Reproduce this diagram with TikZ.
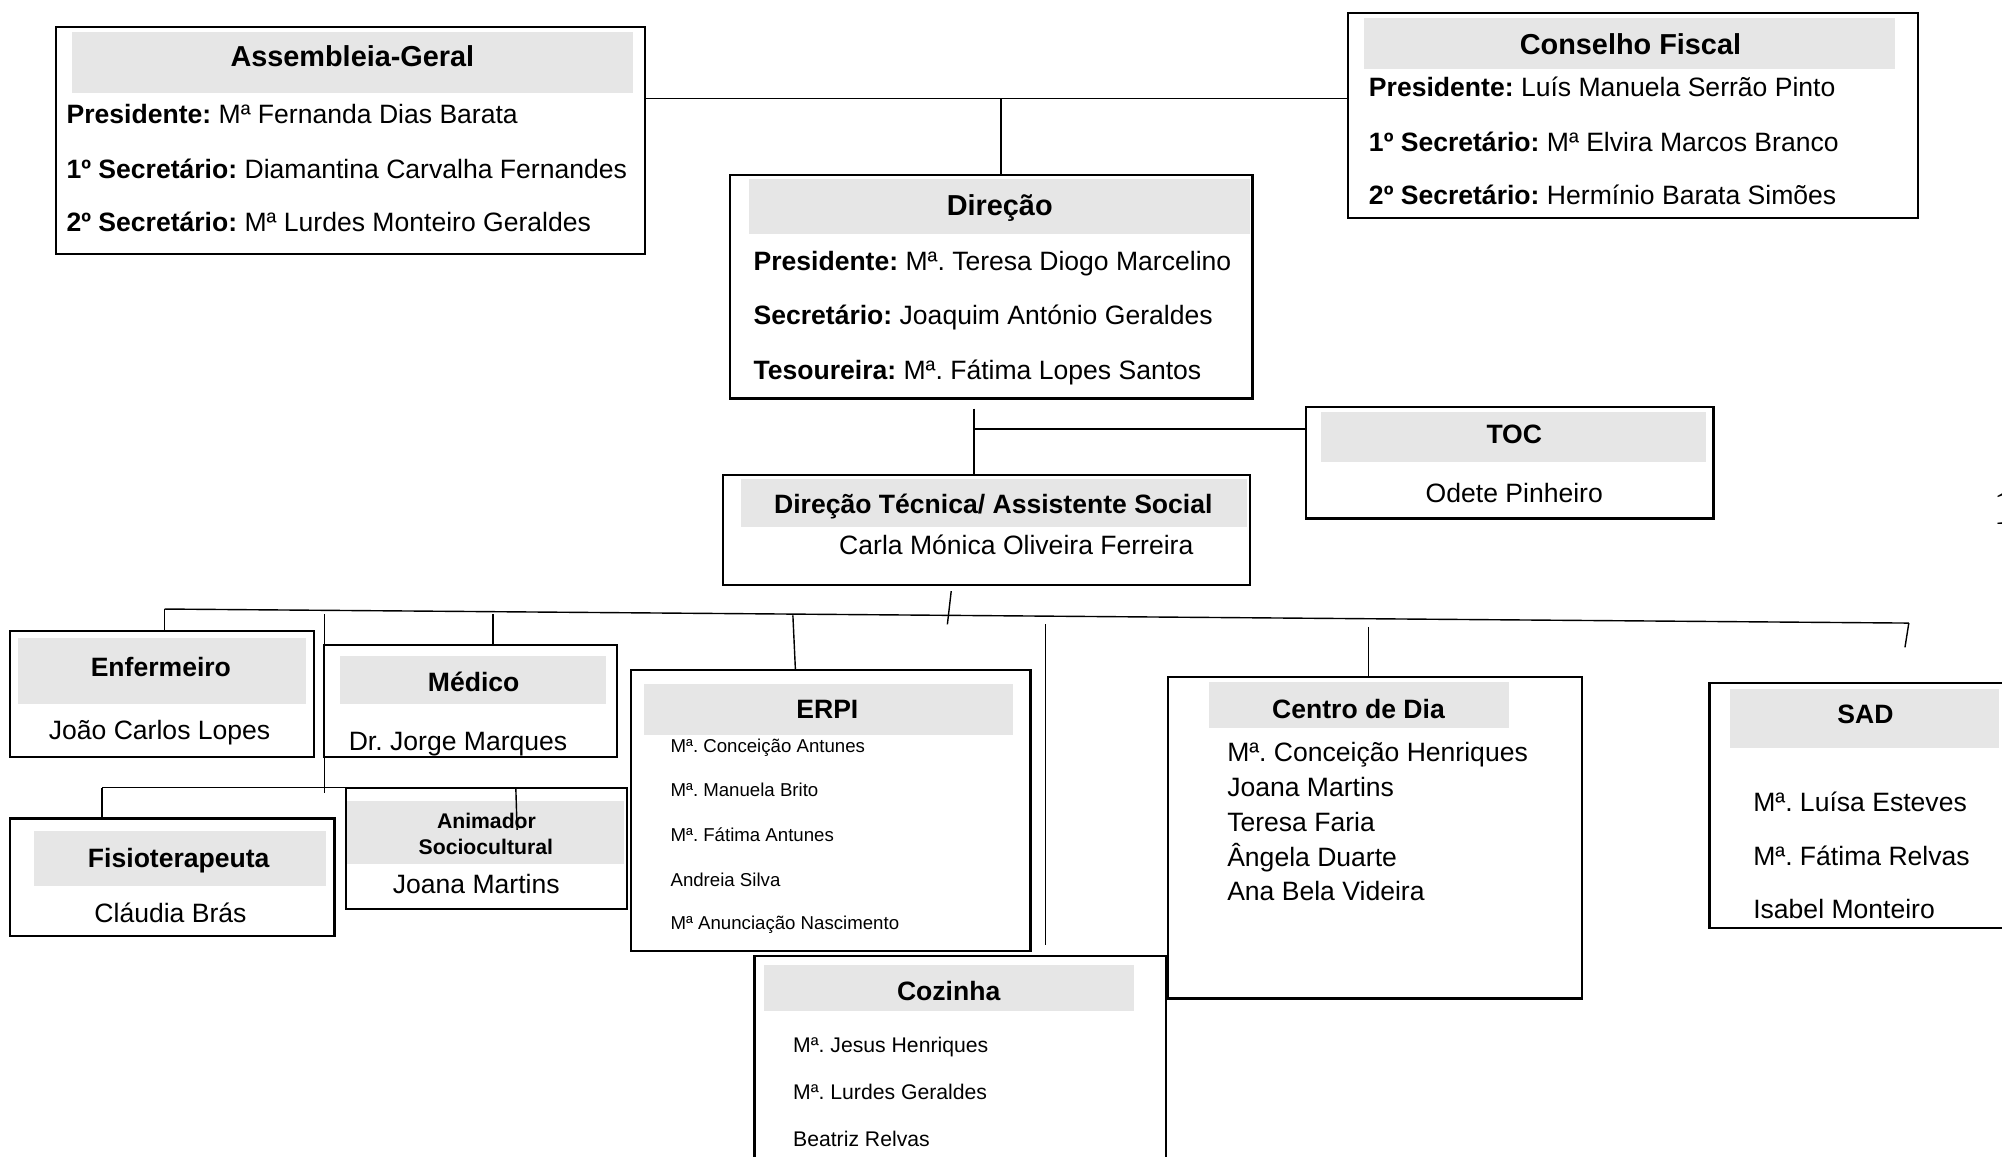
\documentclass[tikz,border=0pt]{standalone}
\usepackage{fontspec}
\setmainfont{Liberation Sans}
\newfontfamily\serifone{Liberation Serif}
\frenchspacing
\definecolor{hdrgray}{HTML}{E6E6E6}
\newcommand\fsTop{\fontsize{22.6}{26}\selectfont\bfseries}
\newcommand\fsTitle{\fontsize{20.8}{24}\selectfont\bfseries}
\newcommand\fsBody{\fontsize{20.8}{24}\selectfont}
\newcommand\fsSmall{\fontsize{14.6}{17}\selectfont}
\newcommand\fsMid{\fontsize{16.6}{19}\selectfont}
\newcommand\fsAni{\fontsize{16.6}{19}\selectfont\bfseries}
\begin{document}
\begin{tikzpicture}[x=1pt,y=-1pt,
  bx/.style={draw=black, line width=1.8pt, fill=white, inner sep=0pt, rectangle},
  hdr/.style={fill=hdrgray},
  ln/.style={line width=1.1pt, draw=black},
  txt/.style={inner sep=0pt, anchor=base west},
  ctxt/.style={inner sep=0pt, anchor=base}]
\useasboundingbox (0,0) rectangle (1568,906);
\fill[white] (0,0) rectangle (1568,906);

% ---------- boxes ----------
\node[bx, minimum width=461pt, minimum height=178pt] (ag) at (274.5,110) {};
\node[bx, minimum width=446pt, minimum height=161pt] (cf) at (1279,90.5) {};
\node[bx, minimum width=409pt, minimum height=175pt] (dir) at (776.5,224.5) {};
\node[bx, minimum width=319pt, minimum height=87pt] (toc) at (1182.5,362.5) {};
\node[bx, minimum width=413pt, minimum height=86pt] (dt) at (772.5,415) {};
\node[bx, minimum width=238pt, minimum height=99pt] (enf) at (127,543.5) {};
\node[bx, minimum width=229pt, minimum height=88pt] (med) at (368.5,549) {};
\node[bx, minimum width=254pt, minimum height=92pt] (fis) at (135,687) {};
\node[bx, minimum width=220pt, minimum height=95pt] (ani) at (381,664.5) {};
\node[bx, minimum width=313pt, minimum height=220pt] (erpi) at (650.5,635) {};
\node[bx, minimum width=322pt, minimum height=181pt] (coz) at (752,839.5) {};
\node[bx, minimum width=324pt, minimum height=252pt] (cd) at (1077,656) {};
\node[bx, minimum width=261pt, minimum height=192pt] (sad) at (1469.5,631) {};

% ---------- header bands ----------
\fill[hdr] (56,25) rectangle (496,73);
\fill[hdr] (1068,14) rectangle (1484,54);
\fill[hdr] (587,140) rectangle (979,183);
\fill[hdr] (1035,323) rectangle (1336,362);
\fill[hdr] (580,375) rectangle (977,413);
\fill[hdr] (14,500) rectangle (240,551);
\fill[hdr] (266,514) rectangle (475,551);
\fill[hdr] (27,651) rectangle (255,694);
\fill[hdr] (272,627) rectangle (489,677);
\fill[hdr] (504,536) rectangle (793,576);
\fill[hdr] (598,756) rectangle (888,792);
\fill[hdr] (947,534) rectangle (1182,570);
\fill[hdr] (1355,540) rectangle (1566,586);

% ---------- connectors ----------
\coordinate (j1) at (784,77);
\draw[ln] (ag.east|-j1) -- (cf.west|-j1);
\draw[ln] (j1) -- (j1|-dir.north);
\coordinate (j2) at (763,320);
\coordinate (j3) at (763,336);
\draw[ln] (j2) -- (j2|-dt.north);
\draw[ln] (j3) -- (toc.west|-j3);
\coordinate (d1) at (745,463);
\coordinate (d2) at (742,489);
\draw[ln] (d1) -- (d2);
\coordinate (busL) at (129,477);
\coordinate (busR) at (1495,488);
\draw[ln] (busL) -- (busR);
\coordinate (sadT) at (1492,507);
\draw[ln] (busR) -- (sadT);
\draw[ln] (busL) -- (busL|-enf.north);
\coordinate (v1a) at (254,481);
\coordinate (v1b) at (254,621);
\draw[ln] (v1a) -- (v1b);
\coordinate (m1) at (386,481);
\draw[ln] (m1) -- (m1|-med.north);
\coordinate (e1) at (621,482);
\draw[ln] (e1) -- (623,525);
\coordinate (v2a) at (819,489);
\coordinate (v2b) at (819,740);
\draw[ln] (v2a) -- (v2b);
\coordinate (c1) at (1072,491);
\draw[ln] (c1) -- (c1|-cd.north);
\coordinate (f1) at (80,617);
\coordinate (f2) at (404,617);
\draw[ln] (f1) -- (f2);
\draw[ln] (f1) -- (f1|-fis.north);
\draw[ln] (f2) -- (405,650);

% ---------- texts ----------
\node[ctxt, font=\fsTop] (agT) at (276,52) {Assembleia-Geral};
\node[txt, font=\fsBody] (ag1) at (52,96.5) {\textbf{Presidente:} Mª Fernanda Dias Barata};
\node[txt, font=\fsBody] (ag2) at (52,139.5) {\textbf{1º Secretário:} Diamantina Carvalha Fernandes};
\node[txt, font=\fsBody] (ag3) at (52,181.5) {\textbf{2º Secretário:} Mª Lurdes Monteiro Geraldes};

\node[ctxt, font=\fsTop] (cfT) at (1277,43) {Conselho Fiscal};
\node[txt, font=\fsBody] (cf1) at (1072,75.5) {\textbf{Presidente:} Luís Manuela Serrão Pinto};
\node[txt, font=\fsBody] (cf2) at (1072,118.5) {\textbf{1º Secretário:} Mª Elvira Marcos Branco};
\node[txt, font=\fsBody] (cf3) at (1072,160.5) {\textbf{2º Secretário:} Hermínio Barata Simões};

\node[ctxt, font=\fsTop] (dirT) at (783,169) {Direção};
\node[txt, font=\fsBody] (dir1) at (590,211.5) {\textbf{Presidente:} Mª. Teresa Diogo Marcelino};
\node[txt, font=\fsBody] (dir2) at (590,254.5) {\textbf{Secretário:} Joaquim António Geraldes};
\node[txt, font=\fsBody] (dir3) at (590,297.5) {\textbf{Tesoureira:} Mª. Fátima Lopes Santos};

\node[ctxt, font=\fsTitle] (tocT) at (1186,347.5) {TOC};
\node[ctxt, font=\fsBody] (toc1) at (1186,393.5) {Odete Pinheiro};

\node[ctxt, font=\fsTitle] (dtT) at (778,402.5) {Direção Técnica/ Assistente Social};
\node[ctxt, font=\fsBody] (dt1) at (796,434.5) {Carla Mónica Oliveira Ferreira};

\node[ctxt, font=\fsTitle] (enfT) at (126,529.5) {Enfermeiro};
\node[ctxt, font=\fsBody] (enf1) at (125,579.5) {João Carlos Lopes};

\node[ctxt, font=\fsTitle] (medT) at (371,541.5) {Médico};
\node[txt, font=\fsBody] (med1) at (273,587.5) {Dr. Jorge Marques};

\node[ctxt, font=\fsTitle] (fisT) at (140,679.5) {Fisioterapeuta};
\node[ctxt, font=\fsBody] (fis1) at (133.5,722.5) {Cláudia Brás};

\node[ctxt, font=\fsAni] (aniT1) at (381,649) {Animador};
\node[ctxt, font=\fsAni] (aniT2) at (380.5,669) {Sociocultural};
\node[ctxt, font=\fsBody] (ani1) at (373,699.5) {Joana Martins};

\node[ctxt, font=\fsTitle] (erpiT) at (648,562.5) {ERPI};
\node[txt, font=\fsSmall] (erpi1) at (525,589.2) {Mª. Conceição Antunes};
\node[txt, font=\fsSmall] (erpi2) at (525,624.2) {Mª. Manuela Brito};
\node[txt, font=\fsSmall] (erpi3) at (525,659.2) {Mª. Fátima Antunes};
\node[txt, font=\fsSmall] (erpi4) at (525,694.2) {Andreia Silva};
\node[txt, font=\fsSmall] (erpi5) at (525,728.2) {Mª Anunciação Nascimento};

\node[ctxt, font=\fsTitle] (cozT) at (743,783.5) {Cozinha};
\node[txt, font=\fsMid] (coz1) at (621,824) {Mª. Jesus Henriques};
\node[txt, font=\fsMid] (coz2) at (621,861) {Mª. Lurdes Geraldes};
\node[txt, font=\fsMid] (coz3) at (621,898) {Beatriz Relvas};

\node[ctxt, font=\fsTitle] (cdT) at (1064,562.5) {Centro de Dia};
\node[txt, font=\fsBody] (cd1) at (961,596.5) {Mª. Conceição Henriques};
\node[txt, font=\fsBody] (cd2) at (961,623.5) {Joana Martins};
\node[txt, font=\fsBody] (cd3) at (961,651.5) {Teresa Faria};
\node[txt, font=\fsBody] (cd4) at (961,678.5) {Ângela Duarte};
\node[txt, font=\fsBody] (cd5) at (961,705.5) {Ana Bela Videira};

\node[ctxt, font=\fsTitle] (sadT2) at (1461,566.5) {SAD};
\node[txt, font=\fsBody] (sad1) at (1373,635.5) {Mª. Luísa Esteves};
\node[txt, font=\fsBody] (sad2) at (1373,677.5) {Mª. Fátima Relvas};
\node[txt, font=\fsBody] (sad3) at (1373,719.5) {Isabel Monteiro};

\node[txt, font=\fontsize{40}{40}\selectfont\serifone] (one) at (1561,411) {1};
\end{tikzpicture}
\end{document}
